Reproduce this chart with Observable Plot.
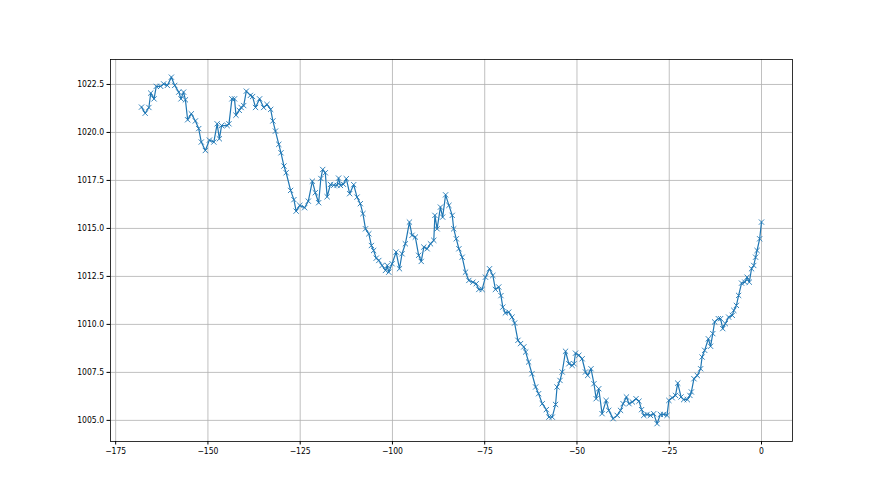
<!DOCTYPE html>
<html>
<head>
<meta charset="utf-8">
<script src="https://cdn.jsdelivr.net/npm/d3@7"></script>
<script src="https://cdn.jsdelivr.net/npm/@observablehq/plot@0.6"></script>
<style>
  html, body { margin: 0; padding: 0; background: #fff; }
  #chart svg { display: block; }
  #chart svg text { font-stretch: condensed; }
</style>
</head>
<body>
<div id="chart"></div>
<script>
const hours = [
  -168, -167, -166, -165.5, -164.6, -164, -162.8, -162, -161, -159.9,
  -159, -157.9, -157.3, -156.6, -156.1, -155.5, -154.5, -153.4, -152.5, -151.8,
  -150.7, -149.6, -148.4, -147.5, -146.9, -146.3, -144.8, -144.3, -143.5, -142.8,
  -142.4, -141.5, -141, -140.3, -139.6, -138.5, -137.9, -137.1, -136, -134.9,
  -134, -133, -132.4, -131.7, -130.8, -130.2, -129.4, -128.8, -127.6, -126.7,
  -126.1, -125.1, -123.8, -122.8, -121.7, -120.9, -120, -119.4, -118.9, -118.2,
  -117.7, -116.8, -115.9, -115, -114.6, -114.1, -113.3, -112.5, -111.6, -110.5,
  -109.6, -108.7, -108, -107.3, -106.4, -105.7, -105.1, -104.4, -103.7, -102.8,
  -101.9, -101.4, -101, -100.1, -99, -98.1, -97.4, -96.5, -95.4, -94.7,
  -93.8, -92.9, -92.2, -91.5, -90.6, -89.7, -88.8, -88.5, -87.9, -87,
  -86.4, -85.6, -84.7, -83.8, -83.4, -82.7, -82, -81.1, -80.2, -79.3,
  -78.2, -77.3, -76.6, -75.7, -74.8, -73.7, -72.8, -72.1, -71.2, -70.6,
  -70.1, -69.4, -68.5, -67.6, -66.9, -66, -65.3, -64.4, -63.9, -63.1,
  -62.2, -61.2, -60.4, -59.4, -58.3, -57.6, -56.7, -55.8, -55.4, -54.6,
  -54, -53.1, -52.2, -51.3, -50.8, -50.4, -49.5, -48.6, -47.7, -47.1,
  -46.2, -45.4, -44.8, -44.1, -43.2, -42.1, -41.4, -40.2, -39.1, -38.2,
  -37.5, -36.6, -35.9, -35, -34, -33.2, -32.5, -31.9, -31, -30.1,
  -29.2, -28.3, -27.4, -26.5, -25.6, -25.1, -24.2, -23.3, -22.7, -21.8,
  -21.1, -20.1, -19.4, -19, -18.3, -17.4, -16.5, -16.1, -15.4, -14.4,
  -13.8, -13.2, -12.7, -11.7, -11.1, -10.5, -9.8, -8.9, -7.9, -7.5,
  -6.8, -6.2, -5.4, -4.5, -3.9, -3.3, -2.7, -2.1, -1.6, -1.2,
  -0.5, 0
];
const pressure = [
  1021.32, 1021.0, 1021.3, 1022.05, 1021.75, 1022.4, 1022.4, 1022.53, 1022.45, 1022.88,
  1022.45, 1022.1, 1021.75, 1022.1, 1021.7, 1020.66, 1020.97, 1020.6, 1020.2, 1019.5,
  1019.06, 1019.6, 1019.5, 1020.45, 1019.67, 1020.36, 1020.36, 1020.45, 1021.75, 1021.75,
  1020.9, 1021.15, 1021.3, 1021.4, 1022.15, 1021.93, 1021.87, 1021.3, 1021.75, 1021.3,
  1021.46, 1021.2, 1020.6, 1020.07, 1019.38, 1018.94, 1018.25, 1017.9, 1016.98, 1016.5,
  1015.9, 1016.2, 1016.08, 1016.42, 1017.46, 1016.86, 1016.34, 1017.6, 1018.07, 1017.9,
  1016.65, 1017.29, 1017.25, 1017.24, 1017.62, 1017.24, 1017.3, 1017.59, 1016.81, 1017.28,
  1016.63, 1016.29, 1015.77, 1014.98, 1014.72, 1014.11, 1013.85, 1013.45, 1013.33, 1013.07,
  1012.81, 1013.07, 1012.72, 1013.16, 1013.77, 1012.9, 1013.68, 1014.2, 1015.33, 1014.64,
  1014.55, 1013.6, 1013.28, 1014.03, 1013.94, 1014.2, 1014.38, 1015.68, 1014.98, 1016.11,
  1015.59, 1016.75, 1016.2, 1015.68, 1014.98, 1014.46, 1013.94, 1013.5, 1012.72, 1012.29,
  1012.2, 1012.12, 1011.82, 1011.82, 1012.46, 1012.9, 1012.55, 1011.82, 1011.95, 1011.5,
  1010.9, 1010.6, 1010.64, 1010.38, 1010.07, 1009.17, 1009.0, 1008.83, 1008.56, 1008.04,
  1007.43, 1006.74, 1006.39, 1005.87, 1005.56, 1005.17, 1005.17, 1005.83, 1006.74, 1007.08,
  1007.52, 1008.6, 1007.95, 1007.86, 1007.95, 1008.5, 1008.39, 1008.21, 1007.52, 1007.34,
  1007.69, 1006.91, 1006.13, 1006.65, 1005.35, 1006.04, 1005.52, 1005.09, 1005.26, 1005.52,
  1005.87, 1006.22, 1005.87, 1005.96, 1006.13, 1006.0, 1005.56, 1005.26, 1005.31, 1005.26,
  1005.35, 1004.83, 1005.31, 1005.31, 1005.26, 1006.04, 1006.18, 1006.3, 1006.94, 1006.22,
  1006.08, 1006.08, 1006.3, 1006.48, 1007.17, 1007.34, 1007.69, 1008.3, 1008.65, 1009.25,
  1008.86, 1009.52, 1010.13, 1010.3, 1010.3, 1009.78, 1010.04, 1010.38, 1010.47, 1010.73,
  1010.99, 1011.51, 1012.15, 1012.2, 1012.46, 1012.2, 1012.9, 1013.07, 1013.5, 1013.85,
  1014.46, 1015.33
];
const xTicks = [-175, -150, -125, -100, -75, -50, -25, 0];
const yTicks = [1005.0, 1007.5, 1010.0, 1012.5, 1015.0, 1017.5, 1020.0, 1022.5];

const data = hours.map((h, i) => ({h, p: pressure[i]}));
const blue = "#1f77b4";
const fmtX = d => d < 0 ? "\u2212" + Math.abs(d) : String(d);

const chart = Plot.plot({
  width: 880,
  height: 495,
  marginLeft: 110,
  marginRight: 88,
  marginTop: 59,
  marginBottom: 54,
  style: {fontFamily: "'DejaVu Sans Condensed', 'DejaVu Sans', sans-serif", fontSize: "8.5px", color: "#000", background: "#fff"},
  x: {domain: [-176.4, 8.4]},
  y: {domain: [1003.9, 1023.8]},
  marks: [
    Plot.gridX(xTicks, {stroke: "#b0b0b0", strokeOpacity: 1, strokeWidth: 0.8}),
    Plot.gridY(yTicks, {stroke: "#b0b0b0", strokeOpacity: 1, strokeWidth: 0.8}),
    Plot.line(data, {x: "h", y: "p", stroke: blue, strokeWidth: 1.2}),
    Plot.dot(data, {x: "h", y: "p", symbol: "times", r: 2.5, stroke: blue, strokeWidth: 0.9}),
    Plot.frame({stroke: "#000", strokeWidth: 0.8}),
    Plot.axisX(xTicks, {tickSize: 3.5, tickPadding: 3, tickFormat: fmtX, label: null, stroke: "#000"}),
    Plot.axisY(yTicks, {tickSize: 3.5, tickPadding: 3, tickFormat: d => d.toFixed(1), label: null, stroke: "#000"})
  ]
});
document.getElementById("chart").appendChild(chart);
</script>
</body>
</html>
